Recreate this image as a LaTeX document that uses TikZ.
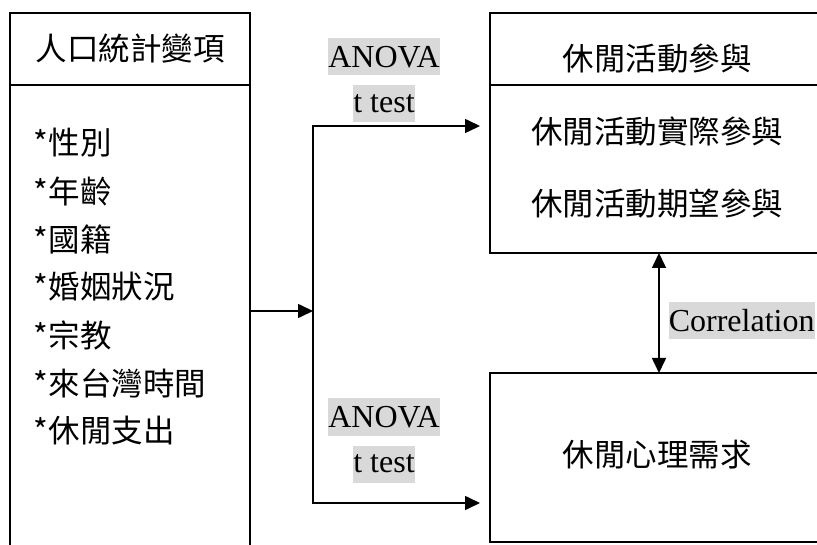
\documentclass[tikz,border=0pt]{standalone}
\usepackage{fontspec}
\setmainfont{Liberation Serif}
\newfontfamily\cjk{Noto Sans CJK TC}
\usetikzlibrary{arrows.meta,positioning}

\begin{document}
\begin{tikzpicture}[x=1pt, y=-1pt, line width=1.6pt, node distance=48pt,
  box/.style = {draw, rectangle, anchor=north west, inner sep=0pt, outer sep=0pt, font=\cjk\fontsize{31.5}{36}\selectfont},
  txt/.style = {inner sep=0pt, font=\cjk\fontsize{31.5}{36}\selectfont},
  item/.style = {txt, anchor=west},
  stat/.style = {fill=black!15, inner xsep=0pt, inner ysep=0pt, minimum height=37pt, font=\fontsize{32}{36}\selectfont},
  >={Triangle[length=15pt,width=14pt]}]
\path[use as bounding box] (0,0) rectangle (817,545);
\clip (0,0) rectangle (817,545);
% left box
\node[box, minimum width=240pt, minimum height=72pt] (demohead) at (10,13) {人口統計變項};
\node[box, minimum width=240pt, minimum height=480pt, below=0pt of demohead] (demo) {};
\node[item] (sex) at (33,143) {*性別};
\node[item] (age) [below=48pt of sex.west, anchor=west] {*年齡};
\node[item] (nation) [below=48pt of age.west, anchor=west] {*國籍};
\node[item] (marry) [below=48pt of nation.west, anchor=west] {*婚姻狀況};
\node[item] (relig) [below=48pt of marry.west, anchor=west] {*宗教};
\node[item] (stay) [below=48pt of relig.west, anchor=west] {*來台灣時間};
\node[item] (spend) [below=48pt of stay.west, anchor=west] {*休閒支出};
% right boxes
\node[box, minimum width=334pt, minimum height=72pt] (acthead) at (490,13) {};
\node[box, minimum width=334pt, minimum height=168pt, below=0pt of acthead] (act) {};
\node[box, minimum width=334pt, minimum height=169pt] (need) at (490,373) {};
\node[txt] (acttitle) at (657,59) {休閒活動參與};
\node[txt] (actreal) at (657,131) {休閒活動實際參與};
\node[txt] (actwish) at (657,204) {休閒活動期望參與};
\node[txt] (needtitle) at (657,455) {休閒心理需求};
% tests
\node[stat] (anova1) at (384,57) {ANOVA};
\node[stat] (ttest1) [below of=anova1, node distance=47pt] {t test};
\node[stat] (anova2) at (384,417) {ANOVA};
\node[stat] (ttest2) [below of=anova2, node distance=47pt] {t test};
% connectors
\coordinate (branch) at (313,311);
\coordinate (toptee) at (313,126);
\coordinate (bottee) at (313,503);
\coordinate (corr) at (659,0);
\draw[->] (branch -| demo.east) -- (branch);
\draw[->, shorten >=10pt] (branch) |- (toptee -| act.west);
\draw[->, shorten >=10pt] (branch) |- (bottee -| need.west);
\draw[<->] (act.south -| corr) -- node[stat, right=9pt, pos=0.56] (corrlbl) {Correlation} (need.north -| corr);
\end{tikzpicture}
\end{document}
